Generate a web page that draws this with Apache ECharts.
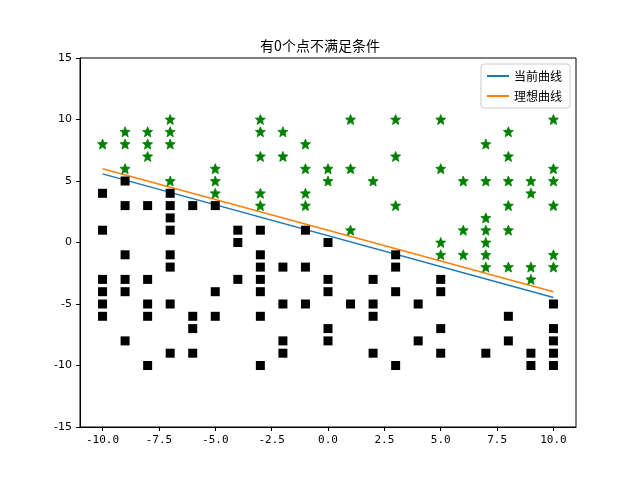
<!DOCTYPE html>
<html><head><meta charset="utf-8">
<script src="https://cdn.jsdelivr.net/npm/echarts@6/dist/echarts.min.js"></script>
<style>html,body{margin:0;padding:0;background:#fff}#c{width:640px;height:480px}</style>
</head><body><div id="c"></div>
<script>
const title = '有0个点不满足条件';
const xTicks = [-10, -7.5, -5, -2.5, 0, 2.5, 5, 7.5, 10];
const yTicks = [-15, -10, -5, 0, 5, 10, 15];
const greenStars = [
[-10,8],[-9,9],[-9,8],[-9,6],[-8,9],[-8,8],[-8,7],[-7,10],[-7,9],[-7,8],[-7,5],
[-5,6],[-5,5],[-5,4],[-3,10],[-3,9],[-3,7],[-3,4],[-3,3],[-2,9],[-2,7],
[-1,8],[-1,6],[-1,4],[-1,3],[0,6],[0,5],[1,10],[1,6],[1,1],[2,5],[3,10],[3,7],[3,3],
[5,10],[5,6],[5,0],[5,-1],[6,5],[6,1],[6,-1],[7,8],[7,5],[7,2],[7,1],[7,0],[7,-1],[7,-2],
[8,9],[8,7],[8,5],[8,3],[8,1],[8,-2],[9,5],[9,4],[9,-2],[9,-3],
[10,10],[10,6],[10,5],[10,3],[10,-1],[10,-2]];
const blackSquares = [
[-10,4],[-10,1],[-10,-3],[-10,-4],[-10,-5],[-10,-6],
[-9,5],[-9,3],[-9,-1],[-9,-3],[-9,-4],[-9,-8],
[-8,3],[-8,-3],[-8,-5],[-8,-6],[-8,-10],
[-7,4],[-7,3],[-7,2],[-7,1],[-7,-1],[-7,-2],[-7,-5],[-7,-9],
[-6,3],[-6,-6],[-6,-7],[-6,-9],
[-5,3],[-5,-4],[-5,-6],
[-4,1],[-4,0],[-4,-3],
[-3,1],[-3,-1],[-3,-2],[-3,-3],[-3,-4],[-3,-6],[-3,-10],
[-2,-2],[-2,-5],[-2,-8],[-2,-9],
[-1,1],[-1,-2],[-1,-5],
[0,0],[0,-3],[0,-4],[0,-7],[0,-8],
[1,-5],[2,-3],[2,-5],[2,-6],[2,-9],
[3,-1],[3,-2],[3,-4],[3,-10],[4,-5],[4,-8],
[5,-3],[5,-4],[5,-7],[5,-9],[7,-9],[8,-6],[8,-8],[9,-9],[9,-10],
[10,-5],[10,-7],[10,-8],[10,-9],[10,-10]];
const currentLine = [[-10,5.58],[10,-4.47]];
const idealLine = [[-10,6],[10,-4]];
const names = ['当前曲线','理想曲线'];

const star = 'path://M50,0 L63,32 L98,35 L71,58 L80,94 L50,75 L20,94 L29,58 L2,35 L37,32 Z';
const font = '"Noto Sans CJK SC", "DejaVu Sans", sans-serif';
const chart = echarts.init(document.getElementById('c'));
chart.setOption({
  animation:false,
  title:{text:title,left:'center',top:34,textStyle:{fontSize:14,fontWeight:'normal',color:'#000',fontFamily:font}},
  grid:{left:80,right:64,top:58,bottom:53},
  legend:{data:names,orient:'vertical',right:70,top:64,itemWidth:22,itemHeight:2,itemGap:8,
    borderColor:'#ccc',borderWidth:1,borderRadius:3,padding:[6,8,6,6],
    textStyle:{fontSize:12,color:'#000',fontFamily:font},icon:'rect'},
  xAxis:{type:'value',min:-11,max:11,splitLine:{show:false},
    axisLine:{onZero:false,lineStyle:{color:'#000'}},
    axisTick:{inside:false,length:4,lineStyle:{color:'#000'},customValues:xTicks},
    axisLabel:{color:'#000',fontSize:11,fontFamily:'"DejaVu Sans Mono", monospace',customValues:xTicks,
      formatter:v=>v.toFixed(1)}},
  yAxis:{type:'value',min:-15,max:15,interval:5,splitLine:{show:false},
    axisLine:{show:true,onZero:false,lineStyle:{color:'#000'}},
    axisTick:{show:true,length:4,lineStyle:{color:'#000'}},
    axisLabel:{color:'#000',fontSize:11,fontFamily:'"DejaVu Sans", sans-serif'}},
  series:[
    {name:names[0],type:'line',data:currentLine,showSymbol:false,lineStyle:{color:'#1f77b4',width:1.5},itemStyle:{color:'#1f77b4'},z:3},
    {name:names[1],type:'line',data:idealLine,showSymbol:false,lineStyle:{color:'#ff7f0e',width:1.5},itemStyle:{color:'#ff7f0e'},z:3},
    {type:'scatter',data:greenStars,symbol:star,symbolSize:10,itemStyle:{color:'#008000',opacity:1,borderColor:'#008000',borderWidth:0.8},z:4},
    {type:'scatter',data:blackSquares,symbol:'rect',symbolSize:9,itemStyle:{color:'#000',opacity:1,borderRadius:1.5},z:4}
  ],
  graphic:[{type:'rect',shape:{x:80,y:58,width:496,height:369},style:{fill:'none',stroke:'#000',lineWidth:1},z:10,silent:true}]
});
</script></body></html>
